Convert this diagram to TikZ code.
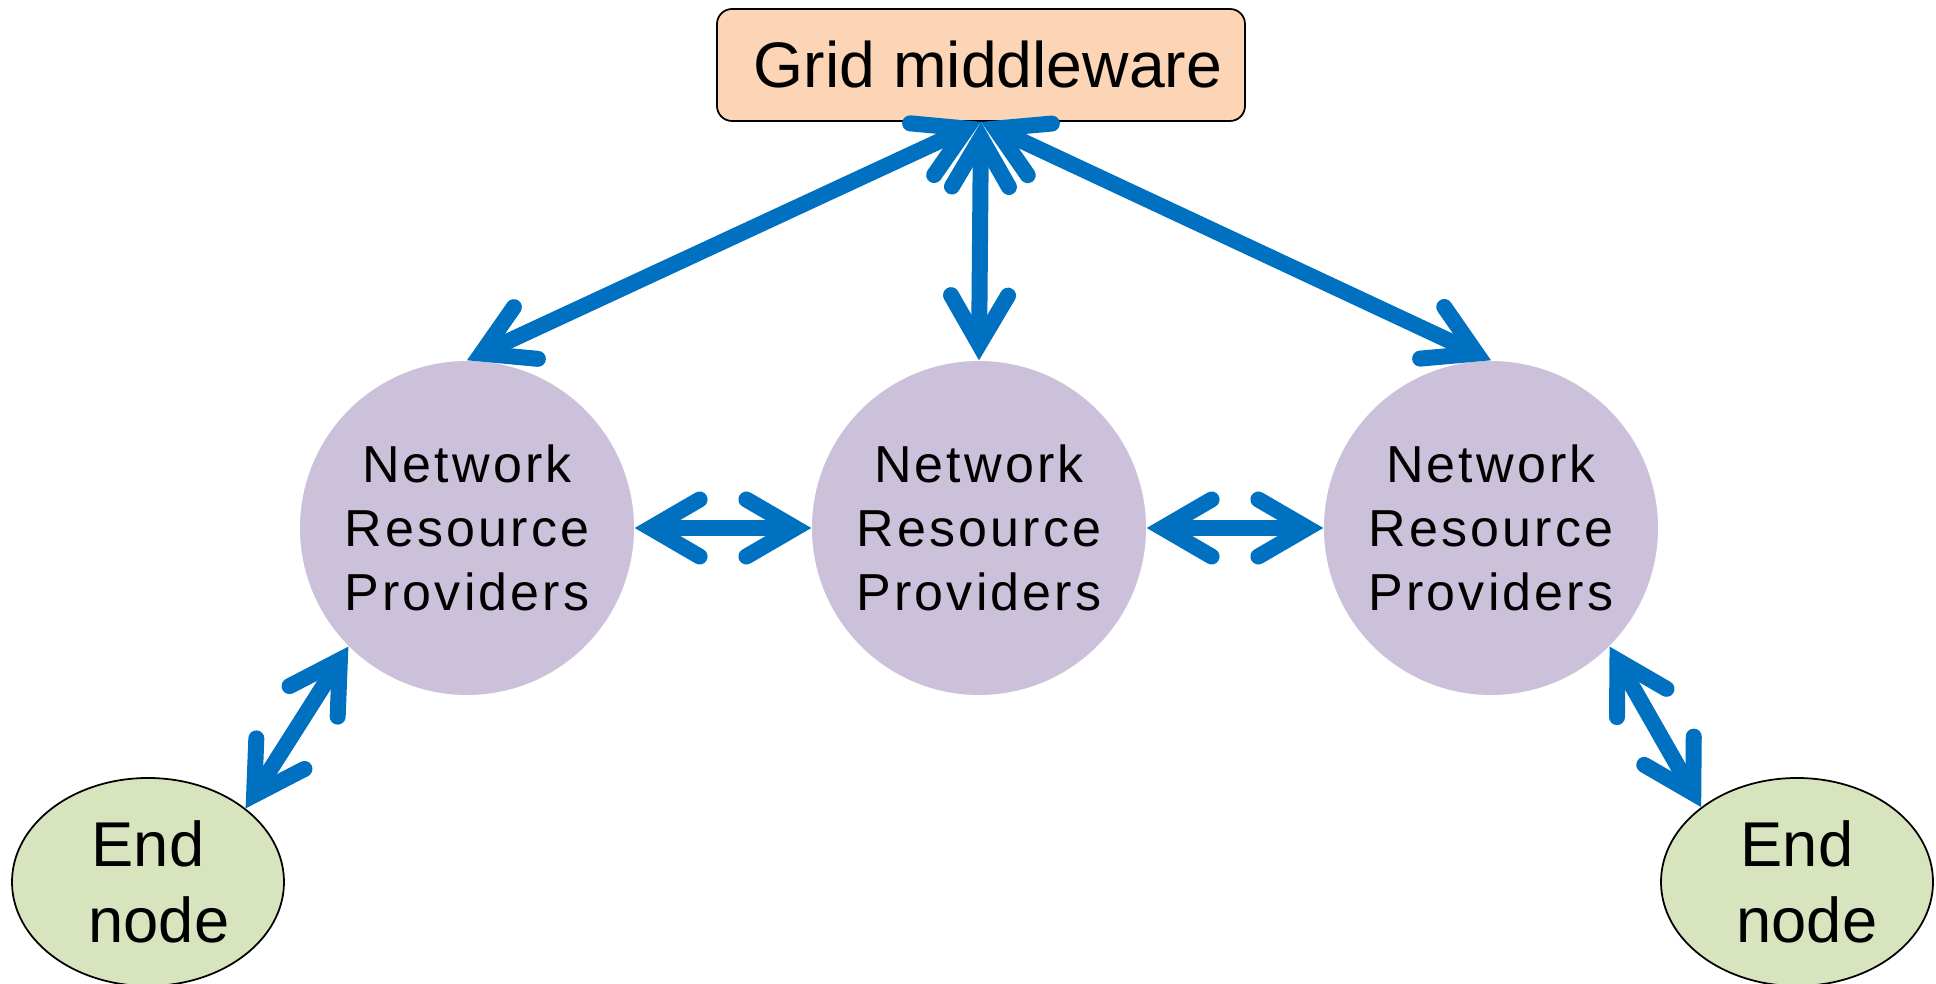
\documentclass[tikz,border=0pt]{standalone}
\usepackage{fontspec}
\setmainfont{Liberation Sans}
\newfontfamily\providerfont[LetterSpace=6]{Liberation Sans}
\usepackage{xcolor}
\usepackage{tikz}
\usetikzlibrary{arrows.meta}
\usetikzlibrary{shapes.geometric}
\definecolor{arrowblue}{HTML}{0070C0}
\definecolor{peach}{HTML}{FBD5B5}
\definecolor{lilac}{HTML}{CCC1DA}
\definecolor{sage}{HTML}{D7E4BD}

\begin{document}
\begin{tikzpicture}[
	font=\fontsize{18}{21.5}\selectfont
]
\tikzset{
    gridbox/.style = {rectangle, rounded corners=0.15cm, draw=black, line width=0.5pt, fill=peach, minimum width=5.28cm, minimum height=1.12cm, font=\fontsize{18.3}{22}\selectfont},
		provider/.style = {circle, fill=lilac, minimum size=3.34cm, inner sep=0pt, align=center, font=\providerfont\fontsize{14.8}{18.3}\selectfont},
		endnode/.style = {ellipse, draw=black, line width=0.5pt, fill=sage, minimum width=2.72cm, minimum height=2.08cm, inner sep=0pt, align=center},
		link/.style = {draw=arrowblue, line width=0.16cm, >={Straight Barb[length=0.49cm,width=0.57cm,line cap=round,line join=miter]}, <->}
}
\useasboundingbox (0,0) rectangle (19.36,9.84);
\node[gridbox] (grid) at (9.81,9.19) {\hspace*{0.14cm}Grid middleware};
\node[provider] (nrpL) at (4.67,4.56) {Network\\Resource\\Providers};
\node[provider] (nrpM) at (9.79,4.56) {Network\\Resource\\Providers};
\node[provider] (nrpR) at (14.91,4.56) {Network\\Resource\\Providers};
\node[endnode] (endL) at (1.48,1.02) {End\\\hspace*{0.22cm}node};
\node[endnode] (endR) at (17.97,1.02) {End\\\hspace*{0.2cm}node};
% links
\draw[link] (grid.south) -- (nrpL.north);
\draw[link] (grid.south) -- (nrpM.north);
\draw[link] (grid.south) -- (nrpR.north);
\draw[link] (nrpL.east) -- (nrpM.west);
\draw[link] (nrpM.east) -- (nrpR.west);
\draw[link] (nrpL.225) -- (endL.37);
\draw[link] (nrpR.-45) -- (endR.142);
\end{tikzpicture}
\end{document}
